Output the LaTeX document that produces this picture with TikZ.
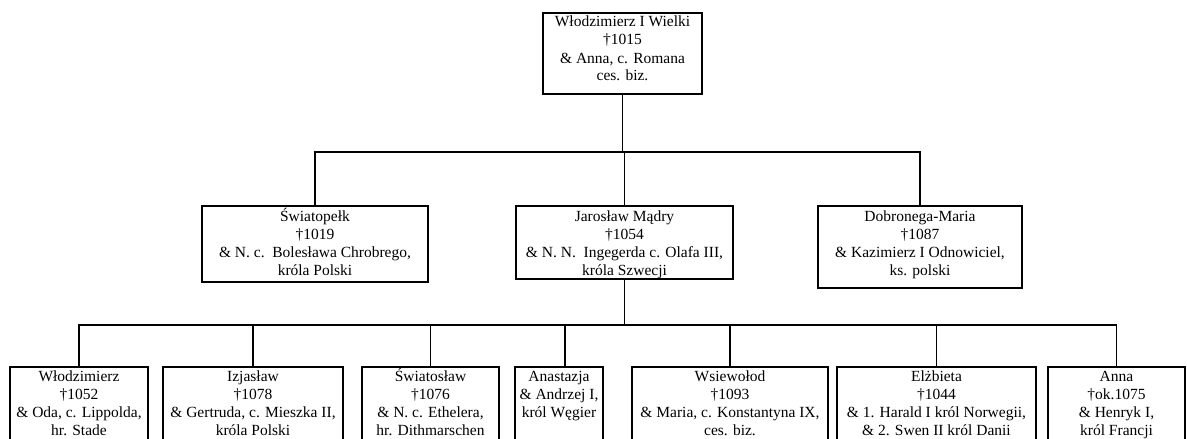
\documentclass[tikz,border=0pt]{standalone}
\usepackage{fontspec}
\setmainfont{Liberation Serif}
\newcommand{\famtext}[2]{\parbox[t]{#1}{\centering #2}}
\begin{document}
\begin{tikzpicture}[x=1pt,y=-1pt,
  pbox/.style={draw, line width=1.7pt, inner sep=0pt, anchor=north},
  ptext/.style={inner sep=0pt, anchor=base, font=\fontsize{15.5}{18}\selectfont},
  conn/.style={line width=1.45pt}]
\useasboundingbox (0,0) rectangle (1187,439);
\clip (0,0) rectangle (1187,439);
% top
\node[pbox, minimum width=159pt, minimum height=81pt] (top) at (622.5,12) {};
\node[ptext] (topt) at ([yshift=-15pt]top.north)
  {\famtext{159pt}{Włodzimierz I Wielki\\†1015\\\& Anna, c. Romana\\ces. biz.}};
% level 1
\node[pbox, minimum width=226pt, minimum height=76pt] (swiat) at (315,205) {};
\node[ptext] (swiatt) at ([yshift=-16pt]swiat.north)
  {\famtext{226pt}{Światopełk\\†1019\\\& N. c.\ \ Bolesława Chrobrego,\\króla Polski}};
\node[pbox, minimum width=217pt, minimum height=73pt] (jar) at (624.5,205) {};
\node[ptext] (jart) at ([yshift=-16pt]jar.north)
  {\famtext{217pt}{Jarosław Mądry\\†1054\\\& N. N.\ \ Ingegerda c. Olafa III,\\króla Szwecji}};
\node[pbox, minimum width=204pt, minimum height=82pt] (dob) at (920,205) {};
\node[ptext] (dobt) at ([yshift=-16pt]dob.north)
  {\famtext{204pt}{Dobronega-Maria\\†1087\\\& Kazimierz I Odnowiciel,\\ks. polski}};
% level 2
\node[pbox, minimum width=138pt, minimum height=84pt] (b1) at (79,366) {};
\node[ptext] (b1t) at ([yshift=-15pt]b1.north)
  {\famtext{138pt}{Włodzimierz\\†1052\\\& Oda, c. Lippolda,\\hr. Stade}};
\node[pbox, minimum width=180pt, minimum height=84pt] (b2) at (253,366) {};
\node[ptext] (b2t) at ([yshift=-15pt]b2.north)
  {\famtext{180pt}{Izjasław\\†1078\\\& Gertruda, c. Mieszka II,\\króla Polski}};
\node[pbox, minimum width=137pt, minimum height=84pt] (b3) at (430.5,366) {};
\node[ptext] (b3t) at ([yshift=-15pt]b3.north)
  {\famtext{137pt}{Światosław\\†1076\\\& N. c. Ethelera,\\hr. Dithmarschen}};
\node[pbox, minimum width=88pt, minimum height=84pt] (b4) at (559,366) {};
\node[ptext] (b4t) at ([yshift=-15pt]b4.north)
  {\famtext{88pt}{Anastazja\\\& Andrzej I,\\król Węgier}};
\node[pbox, minimum width=196pt, minimum height=84pt] (b5) at (730,366) {};
\node[ptext] (b5t) at ([yshift=-15pt]b5.north)
  {\famtext{196pt}{Wsiewołod\\†1093\\\& Maria, c. Konstantyna IX,\\ces. biz.}};
\node[pbox, minimum width=199pt, minimum height=84pt] (b6) at (936.5,366) {};
\node[ptext] (b6t) at ([yshift=-15pt]b6.north)
  {\famtext{199pt}{Elżbieta\\†1044\\\& 1. Harald I król Norwegii,\\\& 2. Swen II król Danii}};
\node[pbox, minimum width=137pt, minimum height=84pt] (b7) at (1116.5,366) {};
\node[ptext] (b7t) at ([yshift=-15pt]b7.north)
  {\famtext{137pt}{Anna\\†ok.1075\\\& Henryk I,\\król Francji}};
% connectors level 1
\coordinate (j1) at (622.5,152);
\draw[conn] (top.south) -- (j1);
\draw[conn] (swiat.north) |- (j1) -| (dob.north);
\draw[conn] (jar.north) -- (jar.north |- j1);
% connectors level 2
\coordinate (j2) at (624.5,325);
\draw[conn] (jar.south) -- (j2);
\draw[conn] (b1.north) |- (j2) -| (b7.north);
\draw[conn] (b2.north) -- (b2.north |- j2);
\draw[conn] (b3.north) -- (b3.north |- j2);
\draw[conn] ([xshift=6pt]b4.north) -- ([xshift=6pt]b4.north |- j2);
\draw[conn] (b5.north) -- (b5.north |- j2);
\draw[conn] (b6.north) -- (b6.north |- j2);
\end{tikzpicture}
\end{document}
